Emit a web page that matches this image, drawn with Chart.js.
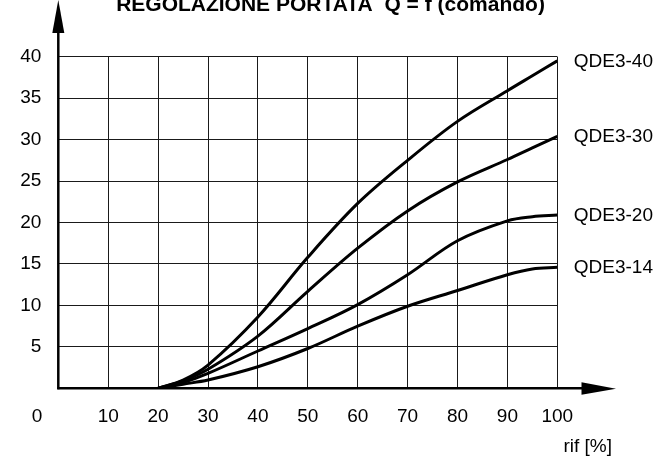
<!DOCTYPE html>
<html>
<head>
<meta charset="utf-8">
<script src="https://cdn.jsdelivr.net/npm/chart.js@4.4.1/dist/chart.umd.min.js"></script>
<style>
  html, body { margin: 0; padding: 0; background: #fff; }
  #wrap { width: 661px; height: 462px; position: relative; }
</style>
</head>
<body>
<div id="wrap"><canvas id="c" width="661" height="462"></canvas></div>
<script>
// ---- data ----
const titleText = "REGOLAZIONE PORTATA  Q = f (comando)";
const xAxisTitle = "rif [%]";
const originLabel = "0";
const rifValues = [20, 25, 30, 40, 50, 60, 70, 80, 90, 95, 100];
const seriesNames = ["QDE3-40", "QDE3-30", "QDE3-20", "QDE3-14"];
const qde3_40 = [0, 1.0, 2.8, 8.6, 15.8, 22.3, 27.5, 32.2, 35.9, 37.7, 39.5];
const qde3_30 = [0, 0.9, 2.3, 6.3, 11.7, 16.9, 21.4, 24.9, 27.6, 29.0, 30.4];
const qde3_20 = [0, 0.7, 1.8, 4.5, 7.2, 10.1, 13.7, 17.8, 20.2, 20.7, 20.9];
const qde3_14 = [0, 0.5, 1.0, 2.6, 4.8, 7.5, 9.9, 11.8, 13.7, 14.4, 14.6];
const xTicks = { min: 0, max: 100, step: 10 };
const yTicks = { min: 0, max: 40, step: 5 };

const seriesValues = [qde3_40, qde3_30, qde3_20, qde3_14];

const FONT = "'Liberation Sans', Arial, Helvetica, sans-serif";
Chart.defaults.font.family = FONT;
Chart.defaults.font.size = 19;
Chart.defaults.color = '#000';

const datasets = seriesNames.map((name, i) => ({
  label: name,
  data: rifValues.map((x, j) => ({ x: x, y: seriesValues[i][j] })),
  borderColor: '#000',
  borderWidth: 3,
  pointRadius: 0,
  pointHoverRadius: 0,
  fill: false,
  tension: 0.35
}));

const decorPlugin = {
  id: 'decor',
  afterDraw(chart) {
    const ctx = chart.ctx;
    const xs = chart.scales.x, ys = chart.scales.y;
    const x0 = xs.getPixelForValue(0);
    const y0 = ys.getPixelForValue(0);
    const xEnd = xs.getPixelForValue(100);
    ctx.save();
    ctx.strokeStyle = '#000';
    ctx.fillStyle = '#000';
    ctx.lineWidth = 2.5;
    // y axis
    ctx.beginPath();
    ctx.moveTo(x0, y0 + 1);
    ctx.lineTo(x0, 30);
    ctx.stroke();
    ctx.beginPath();
    ctx.moveTo(x0, 0);
    ctx.lineTo(x0 - 6, 33);
    ctx.lineTo(x0 + 6, 33);
    ctx.closePath();
    ctx.fill();
    // x axis
    ctx.beginPath();
    ctx.moveTo(x0 - 1, y0);
    ctx.lineTo(585, y0);
    ctx.stroke();
    ctx.beginPath();
    ctx.moveTo(616, y0 + 0.5);
    ctx.lineTo(581.5, y0 - 6);
    ctx.lineTo(581.5, y0 + 6.5);
    ctx.closePath();
    ctx.fill();
    // series labels at the curve ends
    ctx.font = '19px ' + FONT;
    ctx.textAlign = 'left';
    ctx.textBaseline = 'middle';
    chart.data.datasets.forEach((ds, i) => {
      const meta = chart.getDatasetMeta(i);
      const last = meta.data[meta.data.length - 1];
      ctx.fillText(ds.label, xEnd + 16.5, last.y + 0.5);
    });
    // origin label and axis title
    ctx.textAlign = 'center';
    ctx.fillText(originLabel, 37, 417);
    ctx.textAlign = 'right';
    ctx.fillText(xAxisTitle, 612, 447);
    // title (cut at the top as in reference)
    ctx.font = 'bold 21px ' + FONT;
    ctx.textAlign = 'center';
    ctx.textBaseline = 'alphabetic';
    ctx.fillText(titleText, 330.5, 11);
    ctx.restore();
  }
};

new Chart(document.getElementById('c'), {
  type: 'line',
  data: { datasets: datasets },
  options: {
    responsive: false,
    animation: false,
    devicePixelRatio: 1,
    layout: { padding: { top: 56.7, right: 103.7, bottom: 0, left: 0 } },
    plugins: { legend: { display: false }, tooltip: { enabled: false }, title: { display: false } },
    scales: {
      x: {
        type: 'linear',
        min: xTicks.min, max: xTicks.max,
        border: { display: false },
        grid: { color: '#1a1a1a', lineWidth: 1, drawTicks: false },
        ticks: {
          stepSize: xTicks.step, padding: 17, maxRotation: 0, autoSkip: false,
          callback: v => (v === 0 ? '' : String(v))
        },
        afterFit: s => { s.height = 73.7; }
      },
      y: {
        min: yTicks.min, max: yTicks.max,
        border: { display: false },
        grid: { color: '#1a1a1a', lineWidth: 1, drawTicks: false },
        ticks: {
          stepSize: yTicks.step, padding: 17, autoSkip: false,
          callback: v => (v === 0 ? '' : String(v))
        },
        afterFit: s => { s.width = 58.3; }
      }
    }
  },
  plugins: [decorPlugin]
});
</script>
</body>
</html>
